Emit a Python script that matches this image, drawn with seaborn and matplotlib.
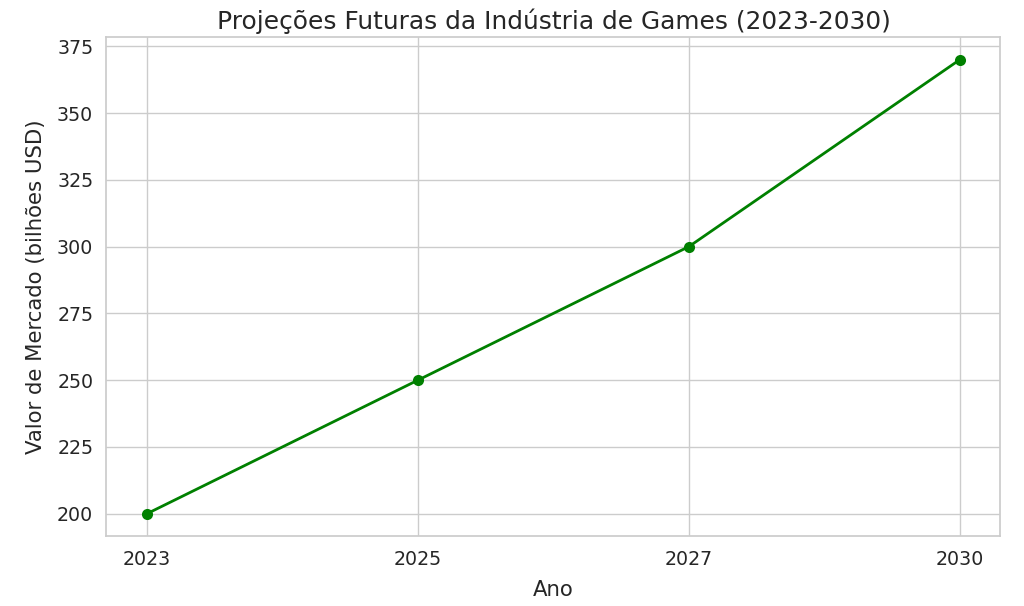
import matplotlib
matplotlib.use("Agg")
import matplotlib.pyplot as plt
import seaborn as sns
import pandas as pd

anos = ["2023", "2025", "2027", "2030"]
valores = [200, 250, 300, 370]

sns.set_theme(style="whitegrid")
df = pd.DataFrame({"Ano": anos, "Valor": valores})

fig, ax = plt.subplots(figsize=(10.24, 6.06), dpi=100)
sns.lineplot(data=df, x="Ano", y="Valor", marker="o", color="green",
             linewidth=2, markersize=8, markeredgewidth=0, ax=ax, sort=False)
ax.set_title("Projeções Futuras da Indústria de Games (2023-2030)", fontsize=17.9)
ax.set_xlabel("Ano", fontsize=15.3, labelpad=8)
ax.set_ylabel("Valor de Mercado (bilhões USD)", fontsize=15.3, labelpad=8)
ax.tick_params(labelsize=13.7)
for s in ax.spines.values():
    s.set_color("#cccccc")
    s.set_linewidth(1.25)
fig.subplots_adjust(left=0.104, right=0.977, top=0.939, bottom=0.115)
fig.savefig("out.png", dpi=100)
